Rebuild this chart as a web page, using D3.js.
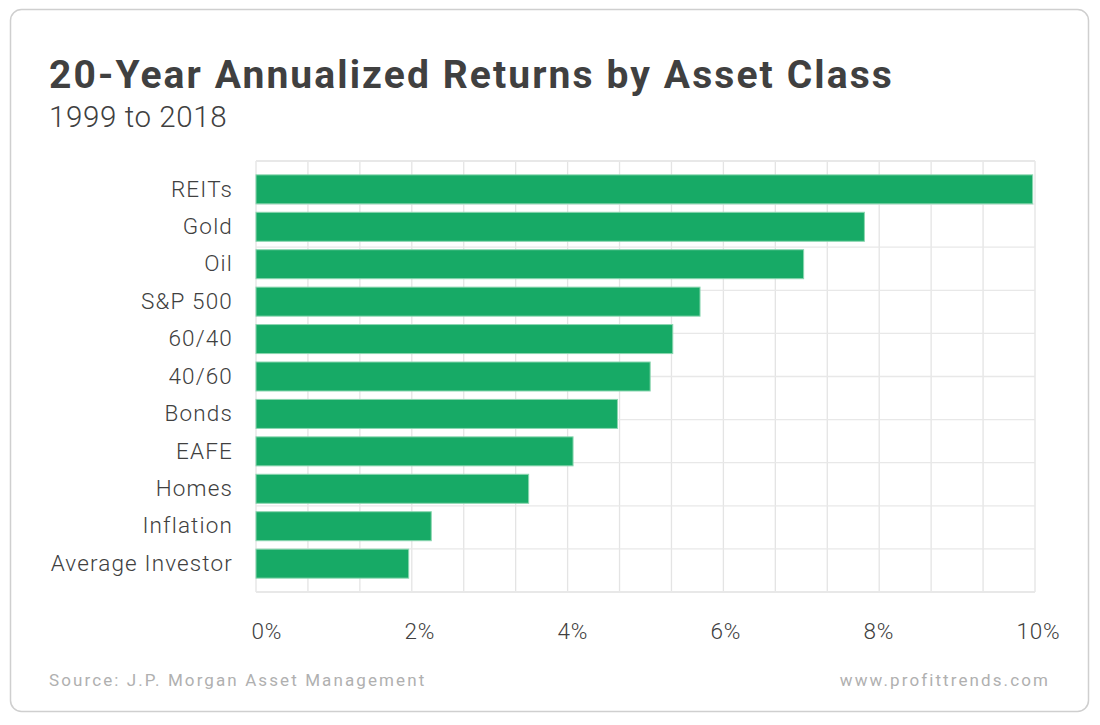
<!DOCTYPE html>
<html>
<head>
<meta charset="utf-8">
<script src="https://cdn.jsdelivr.net/npm/d3@7"></script>
<style>
  body { margin: 0; background: #fff; }
  svg { display: block; font-family: Roboto, "Noto Sans", sans-serif; }
</style>
</head>
<body>
<div id="canvas"></div>
<script>
// chart data
var categories = ["REITs", "Gold", "Oil", "S&P 500", "60/40", "40/60", "Bonds", "EAFE", "Homes", "Inflation", "Average Investor"];
var returns = [9.97, 7.81, 7.03, 5.70, 5.35, 5.06, 4.64, 4.07, 3.50, 2.25, 1.96];
var tickValues = [0, 2, 4, 6, 8, 10];

var width = 1100, height = 725;
var plot = {left: 256, right: 1035, top: 161, bottom: 592};

var svg = d3.select("#canvas").append("svg")
    .attr("width", width)
    .attr("height", height);

// card
svg.append("rect")
    .attr("x", 10.5).attr("y", 9.5)
    .attr("width", 1078).attr("height", 702)
    .attr("rx", 11)
    .attr("fill", "#fff")
    .attr("stroke", "#cfcfcf")
    .attr("stroke-width", 1.5);

// titles
svg.append("text")
    .attr("x", 49).attr("y", 88)
    .attr("fill", "#404040")
    .attr("font-size", 39)
    .attr("font-weight", 700)
    .attr("letter-spacing", 2.1)
    .text("20-Year Annualized Returns by Asset Class");

svg.append("text")
    .attr("x", 49).attr("y", 127)
    .attr("fill", "#404040")
    .attr("font-size", 29.5)
    .attr("font-weight", 300)
    .attr("letter-spacing", 0.6)
    .text("1999 to 2018");

var x = d3.scaleLinear().domain([0, 10]).range([plot.left, plot.right]);

// the % labels in the original sit left-aligned, slightly offset from the grid
var labelX = d3.scaleLinear().domain([0, 10]).range([plot.left - 5, plot.right - 19]);

var y = d3.scaleBand()
    .domain(categories)
    .range([plot.top, plot.bottom])
    .paddingInner(0.225)
    .paddingOuter(0.37);

// gridlines (they don't follow the tick labels in the original)
var gridY = d3.scaleLinear().domain([0, 10]).range([plot.top, plot.bottom]);
var grid = svg.append("g").attr("class", "grid");

grid.selectAll("line.v")
    .data(d3.range(0, 16).map(function(k) { return k * 10 / 15; }))
    .enter().append("line")
    .attr("class", "v")
    .attr("x1", function(d) { return x(d); })
    .attr("x2", function(d) { return x(d); })
    .attr("y1", plot.top).attr("y2", plot.bottom)
    .attr("stroke", "#e4e4e4")
    .attr("stroke-width", 1.3);

grid.selectAll("line.h")
    .data(gridY.ticks(10))
    .enter().append("line")
    .attr("class", "h")
    .attr("x1", plot.left).attr("x2", plot.right)
    .attr("y1", function(d) { return gridY(d); })
    .attr("y2", function(d) { return gridY(d); })
    .attr("stroke", "#e8e8e8")
    .attr("stroke-width", function(d) { return d === 0 || d === 10 ? 2 : 1.3; });

// bars
svg.append("g").selectAll("rect")
    .data(returns)
    .enter().append("rect")
    .attr("x", x(0))
    .attr("y", function(d, i) { return y(categories[i]); })
    .attr("width", function(d) { return x(d) - x(0); })
    .attr("height", y.bandwidth())
    .attr("fill", "#17aa66")
    .attr("stroke", "#8bd6b0")
    .attr("stroke-width", 1);

// category labels
var yAxis = svg.append("g")
    .attr("transform", "translate(" + (plot.left - 10) + ",0)")
    .call(d3.axisLeft(y).tickSize(0).tickPadding(13));
yAxis.select(".domain").remove();
yAxis.selectAll("text")
    .attr("fill", "#404040")
    .attr("font-size", 22.5)
    .attr("font-weight", 300)
    .attr("letter-spacing", 1.15)
    .attr("font-family", "Roboto, sans-serif");

// x tick labels
var xAxis = svg.append("g")
    .attr("transform", "translate(0," + plot.bottom + ")")
    .call(d3.axisBottom(labelX).tickValues(tickValues).tickSize(0).tickPadding(31)
        .tickFormat(function(d) { return d + "%"; }));
xAxis.select(".domain").remove();
xAxis.attr("text-anchor", "start");
xAxis.selectAll("text")
    .attr("fill", "#404040")
    .attr("font-size", 22.5)
    .attr("font-weight", 300)
    .attr("letter-spacing", 0.8)
    .attr("font-family", "Roboto, sans-serif");

// footer
svg.append("text")
    .attr("x", 49).attr("y", 686)
    .attr("fill", "#b0b0b0")
    .attr("font-size", 17)
    .attr("letter-spacing", 2.1)
    .text("Source: J.P. Morgan Asset Management");

svg.append("text")
    .attr("x", 1050).attr("y", 686)
    .attr("text-anchor", "end")
    .attr("fill", "#b0b0b0")
    .attr("font-size", 17)
    .attr("letter-spacing", 2.1)
    .text("www.profittrends.com");
</script>
</body>
</html>
